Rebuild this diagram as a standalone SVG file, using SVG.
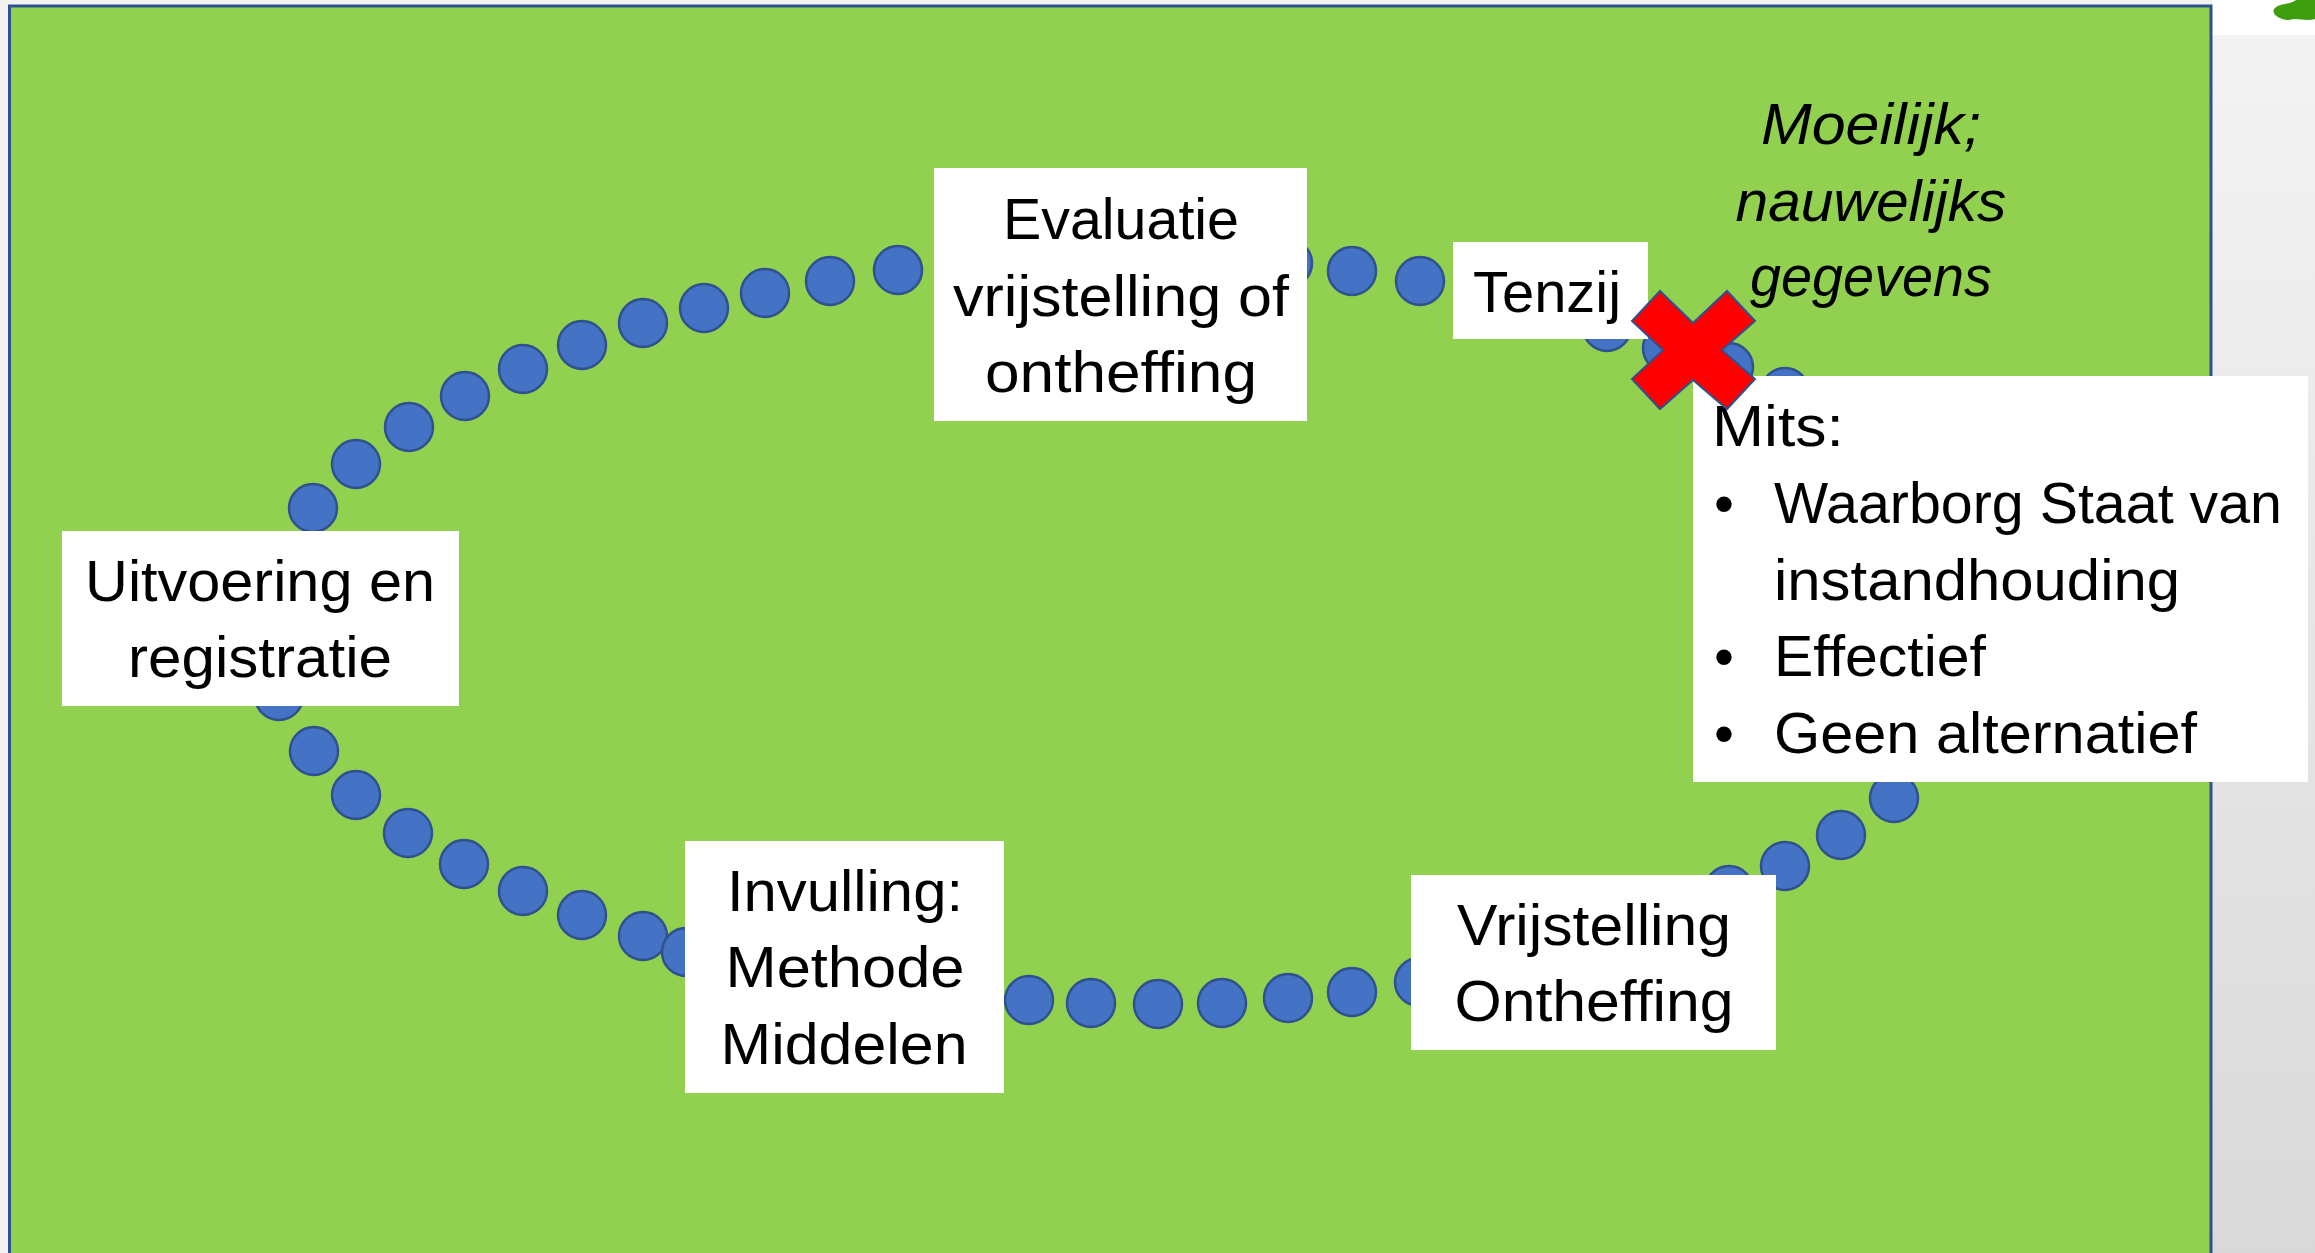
<svg xmlns="http://www.w3.org/2000/svg" width="2315" height="1253" viewBox="0 0 2315 1253">
  <defs>
    <linearGradient id="sideGrad" x1="0" y1="0" x2="0" y2="1">
      <stop offset="0" stop-color="#f3f3f3"/>
      <stop offset="1" stop-color="#d9d9d9"/>
    </linearGradient>
    <style>
      .box { fill: #ffffff; }
      .dot { fill: #4472C4; stroke: #2F528F; stroke-width: 2.5; }
      .lbl { font-family: "Liberation Sans", Arial, sans-serif; font-size: 57px; fill: #000000; }
      .mid { text-anchor: middle; }
      .ital { font-style: italic; }
    </style>
  </defs>

  <!-- background -->
  <rect x="0" y="0" width="2315" height="1253" fill="#f2f2f2"/>
  <rect x="2212" y="35" width="103" height="1218" fill="url(#sideGrad)"/>
  <rect x="2212" y="0" width="103" height="35" fill="#ffffff"/>
  <path d="M2274,9 C2279,3 2289,5 2296,0 L2315,0 L2315,19 C2306,22 2297,17 2289,20 C2281,20 2271,15 2274,9 Z" fill="#3F9E0D"/>
  <rect x="9.5" y="6" width="2201.5" height="1270" fill="#92D050" stroke="#2F528F" stroke-width="3"/>

  <!-- dotted loop -->
  <g id="connectors">
    <circle class="dot" cx="313" cy="508" r="24"/>
    <circle class="dot" cx="356" cy="464" r="24"/>
    <circle class="dot" cx="409" cy="427" r="24"/>
    <circle class="dot" cx="465" cy="396" r="24"/>
    <circle class="dot" cx="523" cy="369" r="24"/>
    <circle class="dot" cx="582" cy="345" r="24"/>
    <circle class="dot" cx="643" cy="323" r="24"/>
    <circle class="dot" cx="704" cy="308" r="24"/>
    <circle class="dot" cx="765" cy="293" r="24"/>
    <circle class="dot" cx="830" cy="281" r="24"/>
    <circle class="dot" cx="898" cy="270" r="24"/>
    <circle class="dot" cx="1288" cy="263" r="24"/>
    <circle class="dot" cx="1352" cy="271" r="24"/>
    <circle class="dot" cx="1420" cy="281" r="24"/>
    <circle class="dot" cx="1607" cy="327" r="24"/>
    <circle class="dot" cx="1667" cy="348" r="24"/>
    <circle class="dot" cx="1729" cy="367" r="24"/>
    <circle class="dot" cx="1785" cy="392" r="24"/>
    <circle class="dot" cx="279" cy="696" r="24"/>
    <circle class="dot" cx="314" cy="751" r="24"/>
    <circle class="dot" cx="356" cy="795" r="24"/>
    <circle class="dot" cx="408" cy="833" r="24"/>
    <circle class="dot" cx="464" cy="864" r="24"/>
    <circle class="dot" cx="523" cy="891" r="24"/>
    <circle class="dot" cx="582" cy="915" r="24"/>
    <circle class="dot" cx="643" cy="936" r="24"/>
    <circle class="dot" cx="686" cy="952" r="24"/>
    <circle class="dot" cx="1029" cy="1000" r="24"/>
    <circle class="dot" cx="1091" cy="1003" r="24"/>
    <circle class="dot" cx="1158" cy="1004" r="24"/>
    <circle class="dot" cx="1222" cy="1003" r="24"/>
    <circle class="dot" cx="1288" cy="998" r="24"/>
    <circle class="dot" cx="1352" cy="992" r="24"/>
    <circle class="dot" cx="1419" cy="982" r="24"/>
    <circle class="dot" cx="1729" cy="890" r="24"/>
    <circle class="dot" cx="1785" cy="866" r="24"/>
    <circle class="dot" cx="1841" cy="835" r="24"/>
    <circle class="dot" cx="1894" cy="798" r="24"/>
  </g>

  <g id="node-uitvoering">
    <rect class="box" x="62" y="531" width="397" height="175"/>
    <text class="lbl mid" x="260" y="601" textLength="350" lengthAdjust="spacingAndGlyphs">Uitvoering en</text>
    <text class="lbl mid" x="260" y="677" textLength="264" lengthAdjust="spacingAndGlyphs">registratie</text>
  </g>

  <g id="node-evaluatie">
    <rect class="box" x="934" y="168" width="373" height="253"/>
    <text class="lbl mid" x="1121" y="239" textLength="236" lengthAdjust="spacingAndGlyphs">Evaluatie</text>
    <text class="lbl mid" x="1121" y="316" textLength="336" lengthAdjust="spacingAndGlyphs">vrijstelling of</text>
    <text class="lbl mid" x="1121" y="392" textLength="272" lengthAdjust="spacingAndGlyphs">ontheffing</text>
  </g>

  <g id="node-tenzij">
    <rect class="box" x="1453" y="242" width="195" height="97"/>
    <text class="lbl mid" x="1547" y="312" textLength="148" lengthAdjust="spacingAndGlyphs">Tenzij</text>
  </g>

  <g id="node-moeilijk">
    <text class="lbl mid ital" x="1871" y="144" textLength="220" lengthAdjust="spacingAndGlyphs">Moeilijk;</text>
    <text class="lbl mid ital" x="1871" y="221" textLength="271" lengthAdjust="spacingAndGlyphs">nauwelijks</text>
    <text class="lbl mid ital" x="1871" y="296" textLength="242" lengthAdjust="spacingAndGlyphs">gegevens</text>
  </g>

  <g id="node-mits">
    <rect class="box" x="1693" y="376" width="615" height="406"/>
    <text class="lbl" x="1712" y="446" textLength="132" lengthAdjust="spacingAndGlyphs">Mits:</text>
    <text class="lbl" x="1714" y="523">•</text>
    <text class="lbl" x="1774" y="523" textLength="508" lengthAdjust="spacingAndGlyphs">Waarborg Staat van</text>
    <text class="lbl" x="1774" y="600" textLength="406" lengthAdjust="spacingAndGlyphs">instandhouding</text>
    <text class="lbl" x="1714" y="676">•</text>
    <text class="lbl" x="1774" y="676" textLength="212" lengthAdjust="spacingAndGlyphs">Effectief</text>
    <text class="lbl" x="1714" y="753">•</text>
    <text class="lbl" x="1774" y="753" textLength="423" lengthAdjust="spacingAndGlyphs">Geen alternatief</text>
  </g>

  <g id="node-cross">
    <polygon points="1660,291 1693,323 1727,291 1755,321 1722,350 1755,379 1727,409 1693,380 1660,409 1632,379 1663,350 1632,321" fill="#FF0000" stroke="#2F528F" stroke-width="2"/>
  </g>

  <g id="node-invulling">
    <rect class="box" x="685" y="841" width="319" height="252"/>
    <text class="lbl mid" x="845" y="911" textLength="236" lengthAdjust="spacingAndGlyphs">Invulling:</text>
    <text class="lbl mid" x="845" y="987" textLength="239" lengthAdjust="spacingAndGlyphs">Methode</text>
    <text class="lbl mid" x="844" y="1064" textLength="247" lengthAdjust="spacingAndGlyphs">Middelen</text>
  </g>

  <g id="node-vrijstelling">
    <rect class="box" x="1411" y="875" width="365" height="175"/>
    <text class="lbl mid" x="1594" y="945" textLength="274" lengthAdjust="spacingAndGlyphs">Vrijstelling</text>
    <text class="lbl mid" x="1594" y="1021" textLength="279" lengthAdjust="spacingAndGlyphs">Ontheffing</text>
  </g>
</svg>
